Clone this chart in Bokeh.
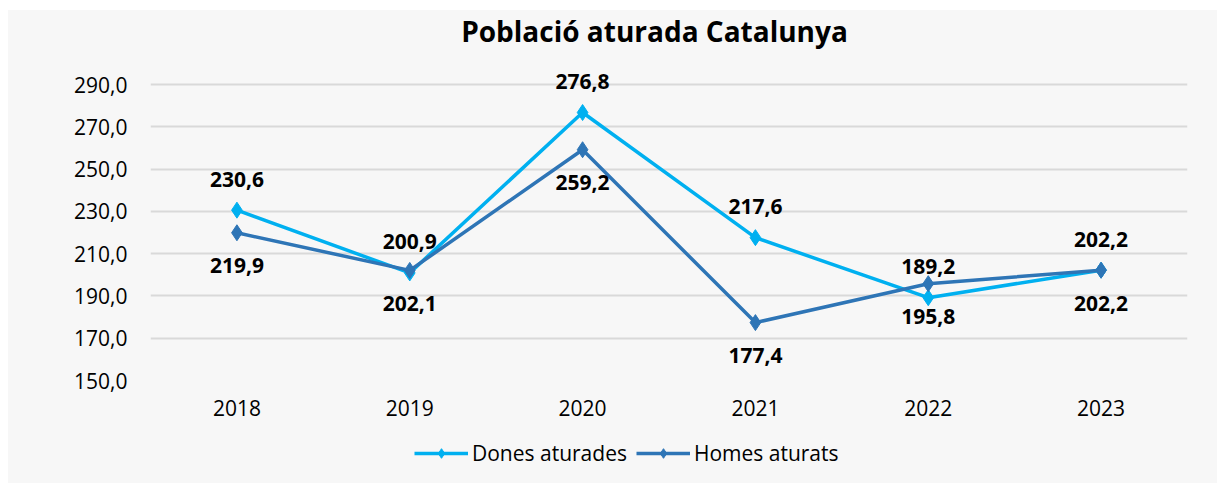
from bokeh.plotting import figure
from bokeh.layouts import column
from bokeh.models import (ColumnDataSource, LabelSet, Label, Legend, LegendItem,
                          CustomJSTickFormatter, FactorRange)
from bokeh.core.properties import value
from bokeh.embed import file_html
from bokeh.resources import INLINE

years = ["2018", "2019", "2020", "2021", "2022", "2023"]
dones = [230.6, 200.9, 276.8, 217.6, 189.2, 202.2]
homes = [219.9, 202.1, 259.2, 177.4, 195.8, 202.2]
y_ticks = [150, 170, 190, 210, 230, 250, 270, 290]

title_text = "Població aturada Catalunya"
name_dones = "Dones aturades"
name_homes = "Homes aturats"

C_DONES = "#00b0f0"
C_HOMES = "#2e75b6"
BG = "#f7f7f7"
FONT = "Open Sans"
W = 1209
BL, BR = 142, 30          # left / right borders of the plot frame

def fmt(v):
    return f"{v:.1f}".replace(".", ",")

def strip(h):
    # frame of the strip is aligned with the main frame by the column layout;
    # x coordinates are expressed as page pixels (frame spans 8+BL .. 8+W-BR)
    f = figure(width=W, height=h, x_range=(8 + BL, 8 + W - BR), y_range=(0, h),
               output_backend="svg", toolbar_location=None,
               x_axis_type=None, y_axis_type=None,
               min_border_left=BL, min_border_right=BR, min_border_top=0, min_border_bottom=0,
               background_fill_color=BG, border_fill_color=BG, outline_line_color=None)
    f.grid.visible = False
    return f

# ---- title strip
pt = strip(44)
pt.add_layout(Label(x=654, y=24, text=title_text, text_align="center", text_baseline="middle",
                    text_font=FONT, text_font_size="28px", text_font_style="bold",
                    text_color="#000000"))

# ---- main chart
src = ColumnDataSource(dict(
    x=years, dones=dones, homes=homes,
    ld=[fmt(v) for v in dones], lh=[fmt(v) for v in homes],
))

p = figure(width=W, height=371, x_range=FactorRange(*years), y_range=(150, 300),
           output_backend="svg", toolbar_location=None,
           min_border_left=BL, min_border_right=BR, min_border_top=9, min_border_bottom=45,
           background_fill_color=BG, border_fill_color=BG, outline_line_color=None)

p.xgrid.grid_line_color = None
p.ygrid.grid_line_color = "#d9d9d9"
p.ygrid.grid_line_width = 2
p.yaxis.ticker = y_ticks
p.yaxis.formatter = CustomJSTickFormatter(code="return tick.toFixed(1).replace('.', ',');")

for ax in (p.xaxis, p.yaxis):
    ax.axis_line_color = None
    ax.major_tick_line_color = None
    ax.minor_tick_line_color = None
    ax.major_label_text_font = FONT
    ax.major_label_text_font_size = "21px"
    ax.major_label_text_color = "#000000"
p.yaxis.major_label_standoff = 17
p.xaxis.major_label_standoff = 13

ld = p.line("x", "dones", source=src, color=C_DONES, line_width=3.5)
sd = p.scatter("x", "dones", source=src, marker="diamond", size=16, color=C_DONES)
lh = p.line("x", "homes", source=src, color=C_HOMES, line_width=3.5)
sh = p.scatter("x", "homes", source=src, marker="diamond", size=16, color=C_HOMES)

lab_d = LabelSet(x="x", y="dones", text="ld", source=src, y_offset=31,
                 text_align="center", text_baseline="middle",
                 text_font=value(FONT), text_font_size="21px", text_font_style="bold",
                 text_color="#000000")
lab_h = LabelSet(x="x", y="homes", text="lh", source=src, y_offset=-33,
                 text_align="center", text_baseline="middle",
                 text_font=value(FONT), text_font_size="21px", text_font_style="bold",
                 text_color="#000000")
p.add_layout(lab_d)
p.add_layout(lab_h)

# ---- legend strip
pl = strip(58)
off = ColumnDataSource(dict(x=[-2000, -1900], y=[-200, -200]))
ld2 = pl.line("x", "y", source=off, color=C_DONES, line_width=3.5)
sd2 = pl.scatter("x", "y", source=off, marker="diamond", size=16, color=C_DONES)
lh2 = pl.line("x", "y", source=off, color=C_HOMES, line_width=3.5)
sh2 = pl.scatter("x", "y", source=off, marker="diamond", size=16, color=C_HOMES)

legend = Legend(items=[LegendItem(label=name_dones, renderers=[ld2, sd2]),
                       LegendItem(label=name_homes, renderers=[lh2, sh2])],
                orientation="horizontal", location=(414 - (8 + BL), 16),
                label_text_font=FONT, label_text_font_size="21px", label_text_color="#000000",
                glyph_width=54, glyph_height=24, label_standoff=4, spacing=9,
                background_fill_alpha=0, border_line_color=None,
                margin=0, padding=0)
pl.add_layout(legend)

layout = column(pt, p, pl, spacing=0, margin=(10, 0, 0, 8),
                styles={"background-color": BG})
open("out.html", "w").write(file_html(layout, INLINE))
